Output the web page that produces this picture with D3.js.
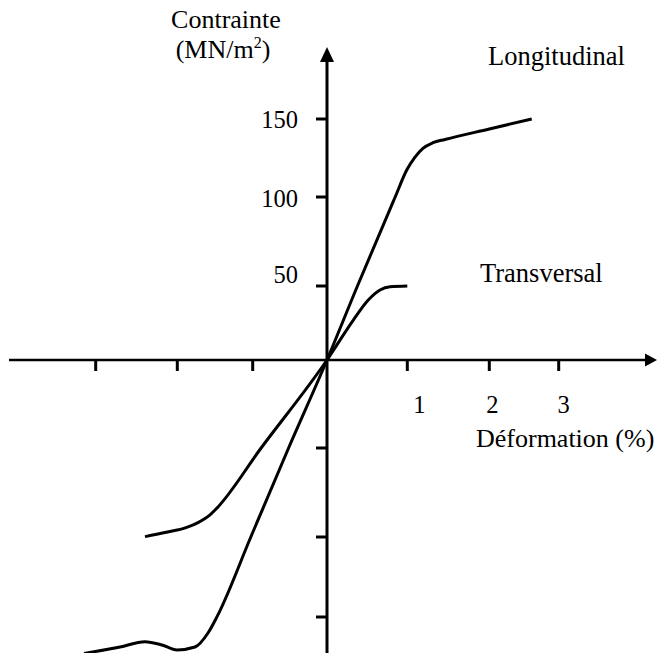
<!DOCTYPE html>
<html>
<head>
<meta charset="utf-8">
<script src="https://cdn.jsdelivr.net/npm/d3@7"></script>
<style>
  html, body { margin: 0; padding: 0; background: #fff; }
  svg { display: block; }
  text { font-family: "Liberation Serif", "Times New Roman", serif; fill: #000; }
</style>
</head>
<body>
<svg id="chart" width="657" height="653"></svg>
<script>
// ---- data ----
const xTicks = [-3, -2, -1, 0, 1, 2, 3];
const yTicks = [-150, -100, -50, 0, 50, 100, 150];
const xTickLabels = ["", "", "", "", "1", "2", "3"];
const yTickLabels = ["", "", "", "", "50", "100", "150"];

const longStrain = [-3.143, -2.702, -2.396, -2.188, -2.004, -1.765, -1.593, -1.473, -1.025, -0.517, 0, 0.379, 0.849, 0.993, 1.094, 1.191, 1.313, 1.46, 2.0, 2.611];
const longStress = [-172.8, -168.75, -165.4, -167.5, -170.6, -168.75, -160, -149.8, -100, -50, 0, 50, 100, 117.3, 125.6, 131.2, 134.8, 136.9, 143.6, 150];

const transStrain = [-2.396, -2.151, -1.875, -1.725, -1.566, -1.477, -0.887, 0, 0.328, 0.514, 0.66, 0.785, 1.0];
const transStress = [-99.8, -97.5, -94.6, -91.9, -87.6, -83.9, -50, 0, 27.0, 40.5, 47.3, 49.5, 50];

const seriesNames = ["Longitudinal", "Transversal"];
const xTitle = "Déformation (%)";
const yTitle1 = "Contrainte";

// ---- layout ----
const svg = d3.select("#chart");
const x = d3.scaleLinear().domain(xTicks).range([95.7, 177.3, 252.7, 327, 407.3, 489.3, 558.7]);
const y = d3.scaleLinear().domain(yTicks).range([617, 537, 448, 360, 286, 197, 119]);
const x0 = x(0), y0 = y(0);
const fsTick = 24.5, fsTitle = 26, fsSeries = 26.5, fsX = 26;

// axes lines
svg.append("line").attr("x1", 9).attr("x2", 648).attr("y1", y0).attr("y2", y0)
  .attr("stroke", "#000").attr("stroke-width", 2.6);
svg.append("line").attr("x1", x0).attr("x2", x0).attr("y1", 653).attr("y2", 60)
  .attr("stroke", "#000").attr("stroke-width", 3);
// arrowheads
svg.append("path").attr("d", `M657,${y0} L645,${y0 - 6.5} L645,${y0 + 6.5} Z`).attr("fill", "#000");
svg.append("path").attr("d", `M${x0},47 L${x0 - 7},62 L${x0 + 7},62 Z`).attr("fill", "#000");

// x ticks
svg.selectAll(".xt").data(xTicks.filter(d => d !== 0)).enter().append("line")
  .attr("x1", d => x(d)).attr("x2", d => x(d))
  .attr("y1", y0).attr("y2", y0 + 11)
  .attr("stroke", "#000").attr("stroke-width", 3);
// y ticks
svg.selectAll(".yt").data(yTicks.filter(d => d !== 0)).enter().append("line")
  .attr("x1", x0 - 11).attr("x2", x0)
  .attr("y1", d => y(d)).attr("y2", d => y(d))
  .attr("stroke", "#000").attr("stroke-width", 3);

// tick labels
const xLabOff = {1: 12, 2: 3, 3: 5};
xTicks.forEach((d, i) => {
  if (!xTickLabels[i]) return;
  svg.append("text").attr("x", x(d) + xLabOff[d]).attr("y", 413)
    .attr("text-anchor", "middle").attr("font-size", fsTick).text(xTickLabels[i]);
});
const yLabOff = {50: -3.5, 100: 9.5, 150: 8.5};
yTicks.forEach((d, i) => {
  if (!yTickLabels[i]) return;
  svg.append("text").attr("x", 298).attr("y", y(d) + yLabOff[d])
    .attr("text-anchor", "end").attr("font-size", fsTick).text(yTickLabels[i]);
});

// curves
const line = d3.line().x(d => x(d[0])).y(d => y(d[1])).curve(d3.curveMonotoneX);
const longData = longStrain.map((v, i) => [v, longStress[i]]);
const transData = transStrain.map((v, i) => [v, transStress[i]]);
[longData, transData].forEach(data => {
  svg.append("path").datum(data).attr("d", line)
    .attr("fill", "none").attr("stroke", "#000").attr("stroke-width", 3)
    .attr("stroke-linecap", "butt").attr("stroke-linejoin", "round");
});

// titles
svg.append("text").attr("x", 226).attr("y", 28).attr("text-anchor", "middle").attr("font-size", fsTitle).text(yTitle1);
const t2 = svg.append("text").attr("x", 223).attr("y", 58).attr("text-anchor", "middle").attr("font-size", fsTitle);
t2.append("tspan").text("(MN/m");
t2.append("tspan").attr("dy", -10).attr("font-size", 16).text("2");
t2.append("tspan").attr("dy", 10).text(")");

svg.append("text").attr("x", 476).attr("y", 447).attr("font-size", fsX).text(xTitle);
svg.append("text").attr("x", 488).attr("y", 65).attr("font-size", fsSeries).text(seriesNames[0]);
svg.append("text").attr("x", 480).attr("y", 282).attr("font-size", fsSeries).text(seriesNames[1]);
</script>
</body>
</html>
